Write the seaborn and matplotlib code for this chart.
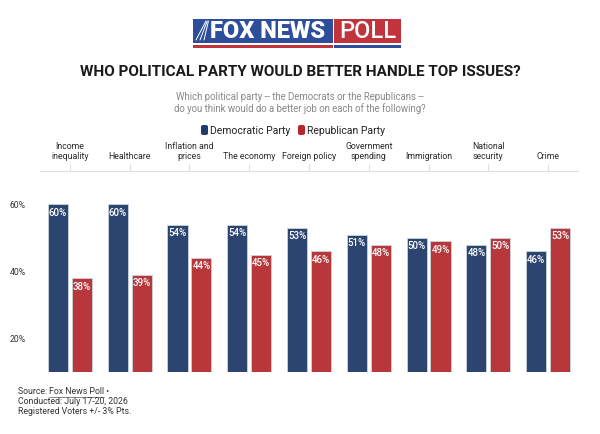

# fox news poll - which party would better handle top issues
# grouped bar chart with seaborn

import pandas as pd
import matplotlib
matplotlib.use('Agg')
import matplotlib.pyplot as plt
from matplotlib.patches import Rectangle, FancyBboxPatch
import seaborn as sns

# data
issues = ['Income\ninequality', 'Healthcare', 'Inflation and\nprices', 'The economy',
          'Foreign policy', 'Government\nspending', 'Immigration', 'National\nsecurity', 'Crime']
democratic = [60, 60, 54, 54, 53, 51, 50, 48, 46]
republican = [38, 39, 44, 45, 46, 48, 49, 50, 53]
parties = ['Democratic Party', 'Republican Party']
y_ticks = [20, 40, 60]

blue = '#2b4570'
red = '#b7373a'

# long format for seaborn
df = pd.DataFrame({
    'issue': issues * 2,
    'party': [parties[0]] * len(issues) + [parties[1]] * len(issues),
    'pct': democratic + republican,
})

sns.set_theme(style='white')
plt.rcParams['font.family'] = ['Roboto', 'DejaVu Sans']

fig = plt.figure(figsize=(6, 4.34), dpi=100)
ax = fig.add_axes([40 / 600, 1 - 372 / 434, 538 / 600, 201 / 434])

sns.barplot(data=df, x='issue', y='pct', hue='party', order=issues, hue_order=parties,
            palette=[blue, red], saturation=1, width=0.8, gap=0.16, legend=False,
            edgecolor='#c9d3df', linewidth=0.6, ax=ax)

ax.set_ylim(10, 70)
ax.set_xlim(-0.5, len(issues) - 0.5)
ax.set_yticks(y_ticks)
ax.set_yticklabels([f'{t}%' for t in y_ticks], fontsize=6.2, color='#333333')
for lbl in ax.get_yticklabels():
    lbl.set_ha('left')
ax.set_xlabel('')
ax.set_ylabel('')

# category labels on top with a thin line
ax.xaxis.tick_top()
ax.tick_params(axis='x', top=True, length=5, width=0.8, color='#dddddd',
               labelsize=6.3, labelcolor='#2a2a2a', pad=2)
ax.tick_params(axis='y', left=False, pad=15.8)
for s in ['left', 'right', 'bottom']:
    ax.spines[s].set_visible(False)
ax.spines['top'].set_color('#dddddd')
ax.spines['top'].set_linewidth(0.8)
ax.grid(False)

# value labels inside bar tops
for cont in ax.containers:
    for bar in cont:
        x = bar.get_x() + bar.get_width() / 2
        top = bar.get_y() + bar.get_height()
        ax.annotate(f'{top:.0f}%', (x, top), xytext=(0, -6), textcoords='offset points',
                    ha='center', va='center', color='white', fontsize=7, fontweight='medium')

# logo
def px_rect(x0, y0, x1, y1, color, rounded=False):
    if rounded:
        p = FancyBboxPatch((x0 / 600, 1 - y1 / 434), (x1 - x0) / 600, (y1 - y0) / 434,
                           boxstyle='round,pad=0,rounding_size=0.004',
                           transform=fig.transFigure, facecolor=color, edgecolor='none')
    else:
        p = Rectangle((x0 / 600, 1 - y1 / 434), (x1 - x0) / 600, (y1 - y0) / 434,
                      transform=fig.transFigure, facecolor=color, edgecolor='none')
    fig.add_artist(p)

px_rect(193, 19, 333, 43, '#2d4e9a')
px_rect(334, 19, 401, 43, '#c2343c')
px_rect(193, 45, 333, 48, '#c2343c')
px_rect(334, 45, 401, 48, '#2d4e9a')
fig.text(268 / 600, 1 - 31.5 / 434, 'FOX NEWS', ha='center', va='center', color='white',
         fontsize=17, fontweight='black', fontstretch='condensed')
fig.text(367.5 / 600, 1 - 31.5 / 434, 'POLL', ha='center', va='center', color='white',
         fontsize=17, fontweight='medium')
for dx in [0, 4, 8]:
    fig.add_artist(plt.Line2D([(196 + dx) / 600, (206 + dx * 0.3) / 600],
                              [1 - 40 / 434, 1 - 21 / 434], transform=fig.transFigure,
                              color='white', linewidth=0.7))

# titles
fig.text(0.5, 1 - 72.5 / 434, 'WHO POLITICAL PARTY WOULD BETTER HANDLE TOP ISSUES?',
         ha='center', va='center', fontsize=11, fontweight='bold', color='#1a1a1a')
fig.text(0.5, 1 - 97 / 434, 'Which political party -- the Democrats or the Republicans --',
         ha='center', va='center', fontsize=6.9, color='#888888')
fig.text(0.5, 1 - 108.5 / 434, 'do you think would do a better job on each of the following?',
         ha='center', va='center', fontsize=6.9, color='#888888')

# legend
px_rect(201, 125, 208, 135, '#1f3a6b', rounded=True)
fig.text(210.5 / 600, 1 - 130.5 / 434, parties[0], ha='left', va='center', fontsize=7.5, color='#222222')
px_rect(298, 125, 305, 135, '#b8262d', rounded=True)
fig.text(307 / 600, 1 - 130.5 / 434, parties[1], ha='left', va='center', fontsize=7.5, color='#222222')

# footer, pieces placed one after another
renderer = fig.canvas.get_renderer()
x_px = 18
for part, underline in [('Source: ', False), ('Fox News Poll', True), (' •', False)]:
    t = fig.text(x_px / 600, 1 - 392 / 434, part, ha='left', va='center', fontsize=6.3,
                 color='#333333')
    w = t.get_window_extent(renderer).width
    if underline:
        fig.add_artist(plt.Line2D([x_px / 600, (x_px + w) / 600], [1 - 396.5 / 434, 1 - 396.5 / 434],
                                  transform=fig.transFigure, color='#555555', linewidth=0.5))
    x_px += w
fig.text(18 / 600, 1 - 402 / 434, 'Conducted: July 17-20, 2026', ha='left', va='center',
         fontsize=6.3, color='#333333')
fig.text(18 / 600, 1 - 412 / 434, 'Registered Voters +/- 3% Pts.', ha='left', va='center',
         fontsize=6.3, color='#333333')

fig.savefig('out.png', dpi=100, facecolor='white')
